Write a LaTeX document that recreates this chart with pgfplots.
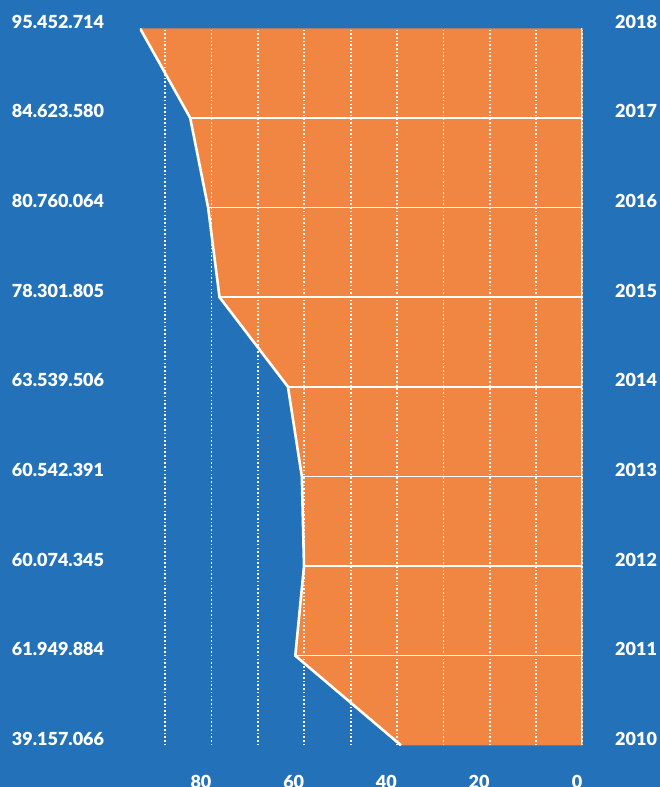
\documentclass[border=0pt]{standalone}
\usepackage{pgfplots}
\pgfplotsset{compat=1.18}
\usepackage{fontspec}
\setmainfont{Lato}[BoldFont={Lato Black}]
\definecolor{bgblue}{RGB}{34,113,185}
\definecolor{orng}{RGB}{240,134,66}
\begin{document}
\begin{tikzpicture}[x=1pt,y=1pt]
\fill[bgblue] (0,0) rectangle (660,787);
\path[use as bounding box] (0,0) rectangle (660,787);
\begin{axis}[
  at={(140pt,41.7pt)}, anchor=south west,
  scale only axis, width=442.5pt, height=717pt,
  x dir=reverse,
  xmin=0, xmax=95.452714, ymin=2010, ymax=2018,
  axis on top,
  axis line style={draw=none},
  tick style={draw=none},
  font=\fontsize{18}{20}\selectfont\bfseries,
  /pgf/number format/assume math mode=true,
  ticklabel style={text=white},
  xtick={0,20,40,60,80},
  minor xtick={10,30,50,70,90},
  xmajorgrids, xminorgrids,
  major grid style={white, line width=1.7pt, dash pattern=on 1.6pt off 2.1pt},
  minor grid style={white, line width=1.7pt, dash pattern=on 1.6pt off 2.1pt},
  xticklabel style={anchor=base east, inner sep=0pt, yshift=-43pt},
  ytick={2010,2011,2012,2013,2014,2015,2016,2017,2018},
  yticklabels={39.157.066,61.949.884,60.074.345,60.542.391,63.539.506,78.301.805,80.760.064,84.623.580,95.452.714},
  yticklabel style={anchor=base east, inner sep=0pt, xshift=-35.7pt},
]
\addplot[fill=orng, draw=none] coordinates {
  (0,2010) (39.157066,2010) (61.949884,2011) (60.074345,2012) (60.542391,2013)
  (63.539506,2014) (78.301805,2015) (80.760064,2016) (84.623580,2017)
  (95.452714,2018) (0,2018)} -- cycle;
\addplot[xcomb, white, line width=1.5pt, mark=none] coordinates {
  (61.949884,2011) (60.074345,2012) (60.542391,2013)
  (63.539506,2014) (78.301805,2015) (80.760064,2016) (84.623580,2017)};
\addplot[white, line width=2.6pt, mark=none] coordinates {
  (39.157066,2010) (61.949884,2011) (60.074345,2012) (60.542391,2013)
  (63.539506,2014) (78.301805,2015) (80.760064,2016) (84.623580,2017)
  (95.452714,2018)};
\addplot[white, line width=2.2pt, mark=none] coordinates {(0,2010) (0,2018)};
\end{axis}
\begin{axis}[
  at={(140pt,41.7pt)}, anchor=south west,
  scale only axis, width=442.5pt, height=717pt,
  xmin=0, xmax=95.452714, ymin=2010, ymax=2018,
  hide x axis,
  axis line style={draw=none},
  tick style={draw=none},
  yticklabel pos=right,
  font=\fontsize{18}{20}\selectfont\bfseries,
  ticklabel style={text=white},
  ytick={2010,2011,2012,2013,2014,2015,2016,2017,2018},
  yticklabels={2010,2011,2012,2013,2014,2015,2016,2017,2018},
  yticklabel style={anchor=base west, inner sep=0pt, xshift=32.5pt},
]
\end{axis}
\end{tikzpicture}
\end{document}
